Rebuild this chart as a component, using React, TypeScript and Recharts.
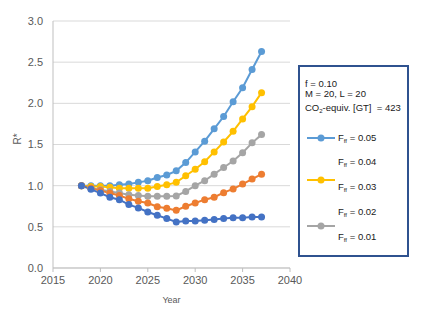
import React from 'react';
import { LineChart, Line, XAxis, YAxis, CartesianGrid } from 'recharts';

const years = [2018, 2019, 2020, 2021, 2022, 2023, 2024, 2025, 2026, 2027, 2028, 2029, 2030, 2031, 2032, 2033, 2034, 2035, 2036, 2037];
const f005 = [1.0, 1.0, 1.0, 1.0, 1.01, 1.02, 1.04, 1.06, 1.1, 1.13, 1.18, 1.28, 1.41, 1.54, 1.69, 1.84, 2.02, 2.19, 2.41, 2.63];
const f003 = [1.0, 0.99, 0.99, 0.98, 0.97, 0.97, 0.97, 0.97, 0.99, 1.01, 1.04, 1.12, 1.2, 1.29, 1.41, 1.53, 1.66, 1.81, 1.96, 2.13];
const f001 = [1.0, 0.97, 0.95, 0.93, 0.91, 0.89, 0.88, 0.87, 0.87, 0.87, 0.875, 0.93, 1.0, 1.06, 1.14, 1.22, 1.3, 1.4, 1.52, 1.62];
const orangeSeries = [1.0, 0.97, 0.94, 0.91, 0.88, 0.84, 0.81, 0.79, 0.745, 0.725, 0.7, 0.75, 0.79, 0.83, 0.86, 0.915, 0.96, 1.02, 1.08, 1.14];
const darkBlueSeries = [1.0, 0.955, 0.91, 0.86, 0.83, 0.77, 0.73, 0.68, 0.64, 0.6, 0.56, 0.57, 0.57, 0.58, 0.59, 0.6, 0.61, 0.61, 0.62, 0.62];
const xTicks = [2015, 2020, 2025, 2030, 2035, 2040];
const yTicks = [0, 0.5, 1, 1.5, 2, 2.5, 3];

const data = years.map((y, i) => ({
  year: y,
  a: f005[i],
  b: f003[i],
  c: f001[i],
  d: orangeSeries[i],
  e: darkBlueSeries[i],
}));

const textColor = '#595959';
const font = 'Liberation Sans, Arial, sans-serif';

const series = [
  { key: 'a', color: '#5B9BD5' },
  { key: 'b', color: '#FFC000' },
  { key: 'c', color: '#A5A5A5' },
  { key: 'd', color: '#ED7D31' },
  { key: 'e', color: '#4472C4' },
];

const Fff = ({ v }: { v: string }) => (
  <span>
    F<span style={{ fontSize: 6, verticalAlign: -2 }}>ff</span> = {v}
  </span>
);

const Marker = ({ color }: { color: string }) => (
  <svg width={28} height={8} style={{ position: 'absolute', left: 0, top: 0 }}>
    <line x1={0} y1={4} x2={28} y2={4} stroke={color} strokeWidth={2} />
    <circle cx={14} cy={4} r={3.5} fill={color} />
  </svg>
);

export default function App() {
  return (
    <div style={{ position: 'absolute', left: 0, top: 0, width: 427, height: 314, background: '#fff', fontFamily: font }}>
      <LineChart width={427} height={314} data={data} margin={{ top: 21, right: 137, bottom: 16, left: 13 }}>
        <CartesianGrid vertical={false} stroke="#D9D9D9" strokeWidth={1} />
        <XAxis
          dataKey="year"
          type="number"
          domain={[2015, 2040]}
          ticks={xTicks}
          height={30}
          stroke="#BFBFBF"
          tickLine={{ stroke: '#BFBFBF' }}
          tickSize={4}
          tickMargin={4}
          tick={{ fill: textColor, fontSize: 11, fontFamily: font }}
          label={{ value: 'Year', position: 'insideBottom', offset: -5, fill: textColor, fontSize: 9, fontFamily: font }}
        />
        <YAxis
          type="number"
          domain={[0, 3]}
          ticks={yTicks}
          width={40}
          stroke="#BFBFBF"
          tickLine={false}
          tickMargin={4}
          tickFormatter={(v: number) => v.toFixed(1)}
          tick={{ fill: textColor, fontSize: 11, fontFamily: font }}
          label={{ value: 'R*', angle: -90, position: 'insideLeft', offset: 4, fill: textColor, fontSize: 10, fontFamily: font }}
        />
        {series.map((s) => (
          <Line
            key={s.key}
            dataKey={s.key}
            stroke={s.color}
            strokeWidth={2}
            dot={{ r: 3.5, fill: s.color, stroke: s.color, strokeWidth: 0 }}
            isAnimationActive={false}
          />
        ))}
      </LineChart>
      <div
        style={{
          position: 'absolute',
          left: 298,
          top: 65,
          width: 107,
          height: 188,
          border: '2px solid #2F528F',
          color: '#1a1a1a',
          fontSize: 9.5,
          lineHeight: '10px',
          fontFamily: font,
        }}
      >
        <div style={{ position: 'absolute', left: 5, top: 12 }}>f = 0.10</div>
        <div style={{ position: 'absolute', left: 5, top: 22 }}>M = 20, L = 20</div>
        <div style={{ position: 'absolute', left: 5, top: 36, whiteSpace: 'nowrap' }}>
          CO<span style={{ fontSize: 6, verticalAlign: -2 }}>2</span>-equiv. [GT]&nbsp; = 423
        </div>
        <div style={{ position: 'absolute', left: 7, top: 67 }}>
          <Marker color="#5B9BD5" />
        </div>
        <div style={{ position: 'absolute', left: 38, top: 66 }}><Fff v="0.05" /></div>
        <div style={{ position: 'absolute', left: 38, top: 90 }}><Fff v="0.04" /></div>
        <div style={{ position: 'absolute', left: 7, top: 109 }}>
          <Marker color="#FFC000" />
        </div>
        <div style={{ position: 'absolute', left: 38, top: 115 }}><Fff v="0.03" /></div>
        <div style={{ position: 'absolute', left: 38, top: 140 }}><Fff v="0.02" /></div>
        <div style={{ position: 'absolute', left: 7, top: 155 }}>
          <Marker color="#A5A5A5" />
        </div>
        <div style={{ position: 'absolute', left: 38, top: 165 }}><Fff v="0.01" /></div>
      </div>
    </div>
  );
}
